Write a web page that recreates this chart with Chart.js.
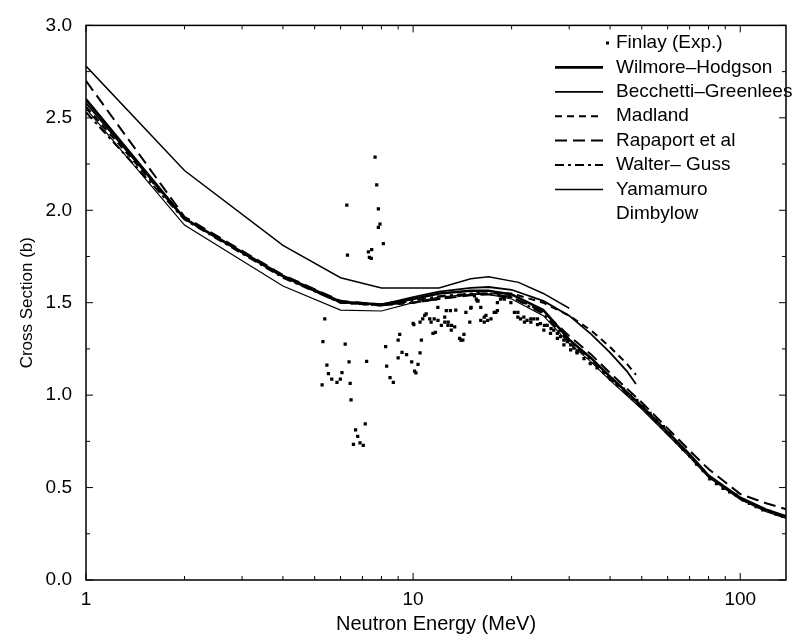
<!DOCTYPE html>
<html lang="en">
<head>
<meta charset="UTF-8" />
<title>Neutron total cross section</title>
<style>
  html, body { margin: 0; padding: 0; background: #fff; }
  #chart { display: block; }
</style>
</head>
<body>
<canvas id="chart" width="794" height="640"></canvas>
<script src="https://cdn.jsdelivr.net/npm/chart.js@4.4.1/dist/chart.umd.min.js"></script>
<script>
// energies (MeV) shared by the full-range model curves
const curveE = [1, 2, 4, 6, 8, 10, 12, 15, 17, 20, 25, 30, 35, 40, 50, 60, 70, 80, 100, 120, 140];
const wilmoreXS  = [2.60, 1.955, 1.645, 1.505, 1.49, 1.52, 1.55, 1.565, 1.565, 1.545, 1.46, 1.30, 1.20, 1.10, 0.94, 0.80, 0.68, 0.565, 0.445, 0.38, 0.34];
const rapaportXS = [2.70, 1.965, 1.65, 1.51, 1.49, 1.50, 1.52, 1.54, 1.545, 1.53, 1.45, 1.32, 1.22, 1.12, 0.96, 0.82, 0.70, 0.60, 0.465, 0.415, 0.38];
const walterXS   = [2.53, 1.95, 1.635, 1.50, 1.485, 1.51, 1.535, 1.55, 1.55, 1.53, 1.44, 1.29, 1.19, 1.09, 0.93, 0.79, 0.67, 0.56, 0.44, 0.375, 0.335];
const dimbylowXS = [2.55, 1.92, 1.59, 1.46, 1.455, 1.50, 1.53, 1.545, 1.545, 1.52, 1.43, 1.28, 1.18, 1.08, 0.925, 0.785, 0.665, 0.555, 0.435, 0.37, 0.33];

// curves that stop at about 48 MeV
const shortE      = [1, 2, 4, 6, 8, 10, 12, 15, 17, 20, 25, 30, 35, 40, 45, 48];
const becchettiXS = [2.58, 1.955, 1.64, 1.50, 1.49, 1.53, 1.56, 1.58, 1.585, 1.57, 1.51, 1.43, 1.33, 1.23, 1.13, 1.06];
const madlandXS   = [2.56, 1.955, 1.64, 1.50, 1.485, 1.50, 1.52, 1.545, 1.55, 1.55, 1.50, 1.43, 1.35, 1.26, 1.17, 1.11];

// Yamamuro stops at 30 MeV
const yamamuroE  = [1, 2, 4, 6, 8, 12, 15, 17, 21, 25, 30];
const yamamuroXS = [2.78, 2.215, 1.81, 1.635, 1.58, 1.58, 1.63, 1.64, 1.61, 1.55, 1.47];

// Finlay measurements
const finlayE = [5.27, 5.30, 5.37, 5.45, 5.51, 5.64, 5.85, 5.99, 6.06, 6.2, 6.27, 6.3, 6.37, 6.42, 6.46, 6.57, 6.67, 6.77, 6.88, 7.04,
  7.14, 7.21, 7.3, 7.35, 7.47, 7.45, 7.65, 7.74, 7.83, 7.83, 7.92, 8.11, 8.24, 8.3, 8.5, 8.7, 9.0, 9.0, 9.1, 9.25,
  9.55, 9.9, 10.05, 10.1, 10.2, 10.35, 10.5, 10.6, 10.7, 10.96, 11.35, 11.5, 11.6, 11.7, 11.9, 12.2, 12.5, 12.8, 13.1, 13.87,
  14.0, 14.3, 14.5, 14.9, 15.0, 15.4, 15.7, 16.1, 16.5, 16.9, 17.3, 17.7, 18.1, 18.1, 18.5, 19.0, 19.4, 19.9, 20.4, 20.9,
  21.8, 21.9, 22.9, 22.9, 24.0, 24.0, 25.1, 25.2, 26.3, 26.4, 27.6, 27.6, 28.9, 28.9, 30.3, 30.3, 31.7, 31.7, 33.3, 34.8,
  36.5, 38.3, 40.1, 42.0, 44.0, 46.1, 48.3, 50.6, 53.0, 55.5, 58.2, 61.0, 63.9, 66.9, 70.1, 73.5, 77.0, 80.7, 84.6, 88.6,
  92.8, 97.2, 101.9, 106.7, 111.8, 117.2, 122.8, 128.7, 134.9,
  10.0, 10.5, 10.85, 11.24, 11.91, 12.49, 12.63, 12.78, 13.0, 13.08, 13.4, 13.5, 14.19, 15.04, 15.6, 15.8, 15.8, 16.1, 16.5, 16.7,
  17.9, 18.8, 19.7, 20.9, 21.3, 22.3, 23.4, 24.5, 25.7, 26.9, 28.2, 29.6, 31.0];
const finlayXS = [1.056, 1.289, 1.413, 1.162, 1.117, 1.086, 1.069, 1.086, 1.122, 1.276, 2.028, 1.758, 1.18, 1.064, 0.975, 0.733, 0.812, 0.777, 0.742, 0.728,
  0.844, 1.183, 1.775, 1.745, 1.787, 1.74, 2.288, 2.137, 2.008, 1.908, 1.925, 1.82, 1.263, 1.157, 1.095, 1.069, 1.201, 1.298, 1.329, 1.231,
  1.219, 1.18, 1.382, 1.13, 1.12, 1.166, 1.228, 1.298, 1.413, 1.44, 1.395, 1.334, 1.413, 1.34, 1.475, 1.378, 1.395, 1.395, 1.378, 1.307,
  1.298, 1.329, 1.448, 1.395, 1.47, 1.537, 1.51, 1.475, 1.422, 1.404, 1.413, 1.448, 1.501, 1.457, 1.52, 1.519, 1.546, 1.501, 1.448, 1.422,
  1.422, 1.395, 1.395, 1.413, 1.413, 1.381, 1.351, 1.378, 1.334, 1.36, 1.334, 1.307, 1.298, 1.272, 1.272, 1.245, 1.236, 1.228, 1.198, 1.170,
  1.148, 1.122, 1.086, 1.060, 1.033, 0.998, 0.971, 0.936, 0.901, 0.865, 0.830, 0.795, 0.746, 0.706, 0.671, 0.627, 0.592, 0.547, 0.521, 0.495,
  0.477, 0.459, 0.433, 0.415, 0.397, 0.380, 0.371, 0.357, 0.344,
  1.388, 1.395, 1.431, 1.413, 1.404, 1.422, 1.457, 1.378, 1.457, 1.351, 1.369, 1.46, 1.298, 1.475, 1.519, 1.51, 1.554, 1.404, 1.395, 1.431,
  1.448, 1.528, 1.537, 1.448, 1.413, 1.404, 1.413, 1.387, 1.378, 1.351, 1.316, 1.289, 1.254];

// axis ticks
const xLabelTicks = [1, 10, 100];
const xMinorTicks = [2, 3, 4, 5, 6, 7, 8, 9, 20, 30, 40, 50, 60, 70, 80, 90];
const yMajorTicks = [0, 0.5, 1.0, 1.5, 2.0, 2.5, 3.0];
const yMinorTicks = [0.25, 0.75, 1.25, 1.75, 2.25, 2.75];

const FONT = '"Liberation Sans", Arial, Helvetica, sans-serif';

function pts(xs, ys) {
  return xs.map((x, i) => ({ x: x, y: ys[i] }));
}

function curve(label, xs, ys, width, dash) {
  return {
    label: label,
    data: pts(xs, ys),
    showLine: true,
    borderColor: '#000',
    backgroundColor: '#000',
    borderWidth: width,
    borderDash: dash,
    pointRadius: 0,
    tension: 0,
    legendSample: 'line'
  };
}

const datasets = [
  {
    label: 'Finlay (Exp.)',
    data: pts(finlayE, finlayXS),
    showLine: false,
    pointStyle: 'rect',
    pointRadius: 2.3,
    backgroundColor: '#000',
    borderColor: '#000',
    borderWidth: 0,
    legendSample: 'dot'
  },
  curve('Wilmore–Hodgson', curveE, wilmoreXS, 2.6, []),
  curve('Becchetti–Greenlees', shortE, becchettiXS, 1.8, []),
  curve('Madland', shortE, madlandXS, 2, [7, 5]),
  curve('Rapaport et al', curveE, rapaportXS, 2, [12, 6]),
  curve('Walter– Guss', curveE, walterXS, 2, [9, 4, 3, 4]),
  curve('Yamamuro', yamamuroE, yamamuroXS, 1.5, []),
  Object.assign(curve('Dimbylow', curveE, dimbylowXS, 1.2, []), { legendSample: 'none' })
];

// box frame with inward ticks on all four sides
const frameTicks = {
  id: 'frameTicks',
  afterDatasetsDraw(chart) {
    const { ctx, chartArea: a, scales: { x, y } } = chart;
    ctx.save();
    ctx.strokeStyle = '#000';
    ctx.setLineDash([]);
    ctx.lineWidth = 1.5;
    ctx.strokeRect(a.left, a.top, a.right - a.left, a.bottom - a.top);
    ctx.lineWidth = 1;
    ctx.beginPath();
    const vTick = (v, len) => {
      const px = x.getPixelForValue(v);
      ctx.moveTo(px, a.bottom); ctx.lineTo(px, a.bottom - len);
      ctx.moveTo(px, a.top); ctx.lineTo(px, a.top + len);
    };
    const hTick = (v, len) => {
      const py = y.getPixelForValue(v);
      ctx.moveTo(a.left, py); ctx.lineTo(a.left + len, py);
      ctx.moveTo(a.right, py); ctx.lineTo(a.right - len, py);
    };
    xLabelTicks.forEach(v => vTick(v, 7));
    xMinorTicks.forEach(v => vTick(v, 4));
    yMajorTicks.forEach(v => hTick(v, 7));
    yMinorTicks.forEach(v => hTick(v, 4));
    ctx.stroke();
    ctx.restore();
  }
};

// legend in the upper right of the plot
const plotLegend = {
  id: 'plotLegend',
  afterDraw(chart) {
    const ctx = chart.ctx;
    const lineLeft = 555, lineRight = 603, textLeft = 616, top = 43, step = 24.4;
    ctx.save();
    ctx.font = '19px ' + FONT;
    ctx.textBaseline = 'middle';
    ctx.fillStyle = '#000';
    ctx.strokeStyle = '#000';
    chart.data.datasets.forEach((ds, i) => {
      const cy = top + i * step;
      if (ds.legendSample === 'dot') {
        ctx.fillRect(606, cy - 1.5, 3, 3);
      } else if (ds.legendSample === 'line') {
        ctx.lineWidth = ds.borderWidth;
        ctx.setLineDash(ds.borderDash || []);
        ctx.beginPath();
        ctx.moveTo(lineLeft, cy);
        ctx.lineTo(lineRight, cy);
        ctx.stroke();
      }
      ctx.fillText(ds.label, textLeft, cy);
    });
    ctx.restore();
  }
};

new Chart(document.getElementById('chart'), {
  type: 'scatter',
  data: { datasets: datasets },
  options: {
    responsive: false,
    animation: false,
    devicePixelRatio: 1,
    layout: { padding: { top: 14, right: 5, bottom: 0, left: 0 } },
    plugins: {
      legend: { display: false },
      tooltip: { enabled: false }
    },
    scales: {
      x: {
        type: 'logarithmic',
        min: 1,
        max: 138,
        grid: { display: false, drawTicks: false },
        border: { display: false },
        ticks: {
          autoSkip: false,
          maxRotation: 0,
          padding: 8,
          color: '#000',
          font: { family: FONT, size: 19 },
          callback: v => (xLabelTicks.includes(v) ? String(v) : '')
        },
        title: {
          display: true,
          text: 'Neutron Energy (MeV)',
          color: '#000',
          font: { family: FONT, size: 20 },
          padding: { top: 0, bottom: 4 }
        },
        afterFit(scale) { scale.height = 60; }
      },
      y: {
        min: 0,
        max: 3,
        grid: { display: false, drawTicks: false },
        border: { display: false },
        ticks: {
          stepSize: 0.5,
          padding: 14,
          color: '#000',
          font: { family: FONT, size: 19 },
          callback: v => v.toFixed(1)
        },
        title: {
          display: true,
          text: 'Cross Section (b)',
          color: '#000',
          font: { family: FONT, size: 17 },
          padding: { top: 17, bottom: 0 }
        },
        afterFit(scale) { scale.width = 86; }
      }
    }
  },
  plugins: [frameTicks, plotLegend]
});
</script>
</body>
</html>
